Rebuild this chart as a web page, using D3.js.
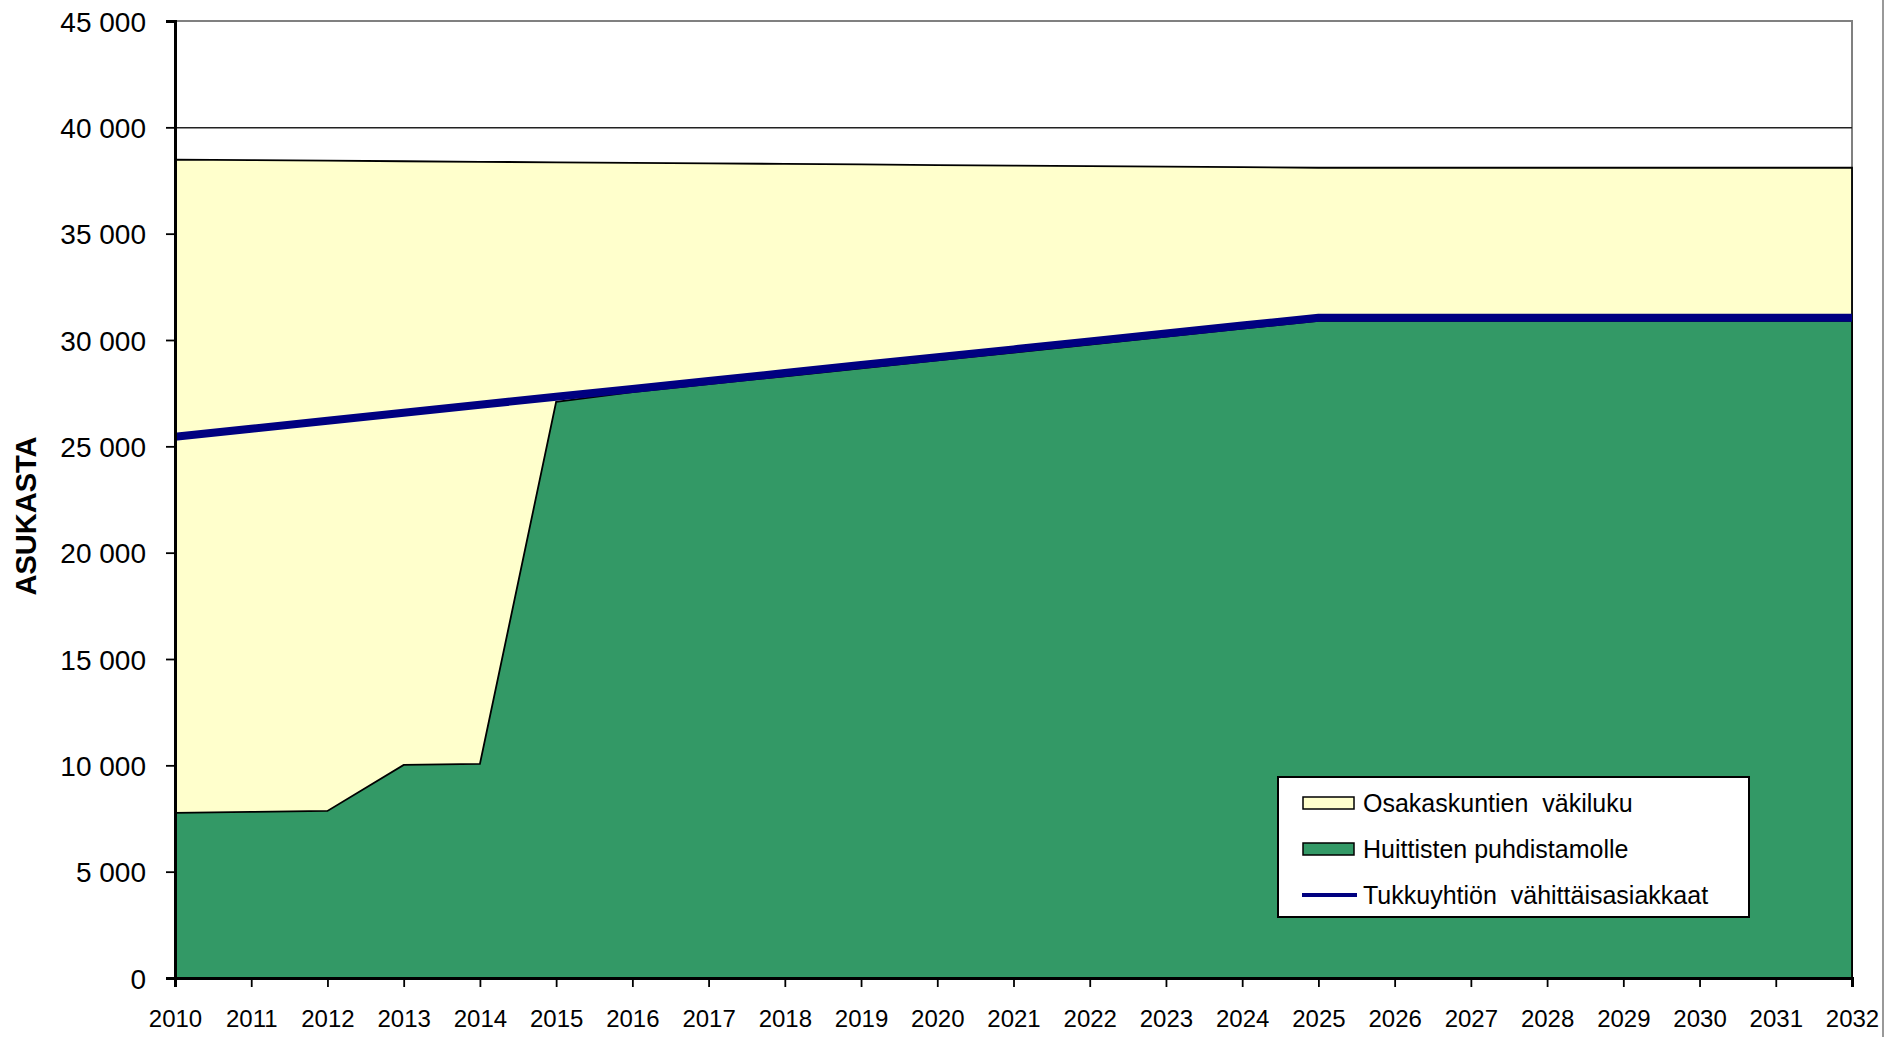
<!DOCTYPE html>
<html>
<head>
<meta charset="utf-8">
<script src="https://cdn.jsdelivr.net/npm/d3@7"></script>
<style>
  html, body { margin: 0; padding: 0; background: #fff; overflow: hidden; }
  svg { display: block; font-family: "Liberation Sans", Arial, sans-serif; }
</style>
</head>
<body>
<svg id="chart"></svg>
<script>
// vuodet
const years = [2010, 2011, 2012, 2013, 2014, 2015, 2016, 2017, 2018, 2019, 2020,
               2021, 2022, 2023, 2024, 2025, 2026, 2027, 2028, 2029, 2030, 2031, 2032];

// Osakaskuntien väkiluku
const vakiluku = [38480, 38455, 38430, 38405, 38380, 38355, 38330, 38305, 38280, 38255, 38225,
                  38200, 38175, 38150, 38125, 38100, 38100, 38100, 38100, 38100, 38100, 38100, 38100];

// Huittisten puhdistamolle
const huittinen = [7760, 7810, 7855, 10020, 10065, 27090, 27550, 27925, 28295, 28670, 29040,
                   29410, 29785, 30155, 30530, 30900, 30900, 30900, 30900, 30900, 30900, 30900, 30900];

// Tukkuyhtiön vähittäisasiakkaat
const tukku = [25450, 25825, 26200, 26580, 26955, 27330, 27700, 28075, 28445, 28820, 29190,
               29560, 29935, 30305, 30680, 31050, 31050, 31050, 31050, 31050, 31050, 31050, 31050];

const yTicks = [0, 5000, 10000, 15000, 20000, 25000, 30000, 35000, 40000, 45000];

const seriesNames = ['Osakaskuntien  väkiluku', 'Huittisten puhdistamolle', 'Tukkuyhtiön  vähittäisasiakkaat'];

const FONT = '"Liberation Sans", Arial, sans-serif';

// koko ja marginaalit
const width = 1885;
const height = 1037;
const margin = { top: 21, right: 33, bottom: 59, left: 175 };
const innerWidth = width - margin.left - margin.right;
const innerHeight = height - margin.top - margin.bottom;

const svg = d3.select('#chart')
  .attr('width', width)
  .attr('height', height);

const g = svg.append('g')
  .attr('transform', `translate(${margin.left},${margin.top})`);

const xScale = d3.scaleLinear()
  .domain([years[0], years[years.length - 1]])
  .range([0, innerWidth]);

const yScale = d3.scaleLinear()
  .domain([0, 45000])
  .range([innerHeight, 0]);

const fmt = d => d3.format(',')(d).replace(/,/g, ' ');

// kuvaajan reunus
g.append('rect')
  .attr('x', 0)
  .attr('y', 0)
  .attr('width', innerWidth)
  .attr('height', innerHeight)
  .attr('fill', '#fff')
  .attr('stroke', '#808080')
  .attr('stroke-width', 2);

// vaakasuuntainen ruudukko
const grid = g.append('g')
  .call(d3.axisLeft(yScale)
    .tickValues(yTicks.filter(d => d > 0 && d < 45000))
    .tickSize(-innerWidth)
    .tickFormat(''));
grid.select('.domain').remove();
grid.selectAll('line')
  .attr('stroke', '#222')
  .attr('stroke-width', 1.5);

// alueet
const areaOf = vals => d3.area()
  .x((d, i) => xScale(years[i]))
  .y0(yScale(0))
  .y1(d => yScale(d))(vals);

g.append('path')
  .attr('d', areaOf(vakiluku))
  .attr('fill', '#ffffcc')
  .attr('stroke', '#000')
  .attr('stroke-width', 1.8)
  .attr('stroke-linejoin', 'miter');

g.append('path')
  .attr('d', areaOf(huittinen))
  .attr('fill', '#339966')
  .attr('stroke', '#000')
  .attr('stroke-width', 1.8)
  .attr('stroke-linejoin', 'miter');

// viiva
const line = d3.line()
  .x((d, i) => xScale(years[i]))
  .y(d => yScale(d));

g.append('path')
  .attr('d', line(tukku))
  .attr('fill', 'none')
  .attr('stroke', '#000080')
  .attr('stroke-width', 8);

// Y-akseli
const yAxis = g.append('g')
  .call(d3.axisLeft(yScale)
    .tickValues(yTicks)
    .tickSize(9)
    .tickPadding(20)
    .tickFormat(fmt));
yAxis.select('.domain')
  .attr('stroke', '#000')
  .attr('stroke-width', 3);
yAxis.selectAll('.tick line')
  .attr('stroke', '#000')
  .attr('stroke-width', 1.8);
yAxis.selectAll('text')
  .style('font-family', FONT)
  .style('font-size', '28px')
  .style('fill', '#000')
  .attr('dy', '0.36em');

// X-akseli
const xAxis = g.append('g')
  .attr('transform', `translate(0,${innerHeight})`)
  .call(d3.axisBottom(xScale)
    .tickValues(years)
    .tickSize(9)
    .tickPadding(23)
    .tickFormat(d3.format('d')));
xAxis.select('.domain')
  .attr('stroke', '#000')
  .attr('stroke-width', 3);
xAxis.selectAll('.tick line')
  .attr('stroke', '#000')
  .attr('stroke-width', 1.8);
xAxis.selectAll('text')
  .style('font-family', FONT)
  .style('font-size', '24px')
  .style('fill', '#000');

// akselin otsikko
svg.append('text')
  .attr('transform', `translate(36,516) rotate(-90)`)
  .attr('text-anchor', 'middle')
  .style('font-size', '29px')
  .style('font-weight', 'bold')
  .text('ASUKASTA');

// oikea reuna
svg.append('line')
  .attr('x1', 1883).attr('x2', 1883)
  .attr('y1', 0).attr('y2', height)
  .attr('stroke', '#999')
  .attr('stroke-width', 2);

// selite
const legend = svg.append('g')
  .attr('transform', 'translate(1278,777)');

legend.append('rect')
  .attr('width', 471)
  .attr('height', 140)
  .attr('fill', '#fff')
  .attr('stroke', '#000')
  .attr('stroke-width', 2);

const rowY = [26, 72, 118];

legend.append('rect')
  .attr('x', 25).attr('y', rowY[0] - 6)
  .attr('width', 51).attr('height', 12)
  .attr('fill', '#ffffcc').attr('stroke', '#000').attr('stroke-width', 1.5);

legend.append('rect')
  .attr('x', 25).attr('y', rowY[1] - 6)
  .attr('width', 51).attr('height', 12)
  .attr('fill', '#339966').attr('stroke', '#000').attr('stroke-width', 1.5);

legend.append('line')
  .attr('x1', 24).attr('x2', 79)
  .attr('y1', rowY[2]).attr('y2', rowY[2])
  .attr('stroke', '#000080').attr('stroke-width', 4);

legend.selectAll('.ltext')
  .data(seriesNames)
  .enter()
  .append('text')
  .attr('class', 'ltext')
  .attr('x', 85)
  .attr('y', (d, i) => rowY[i])
  .attr('dy', '0.36em')
  .attr('xml:space', 'preserve')
  .style('white-space', 'pre')
  .style('font-size', '25px')
  .text(d => d);
</script>
</body>
</html>
